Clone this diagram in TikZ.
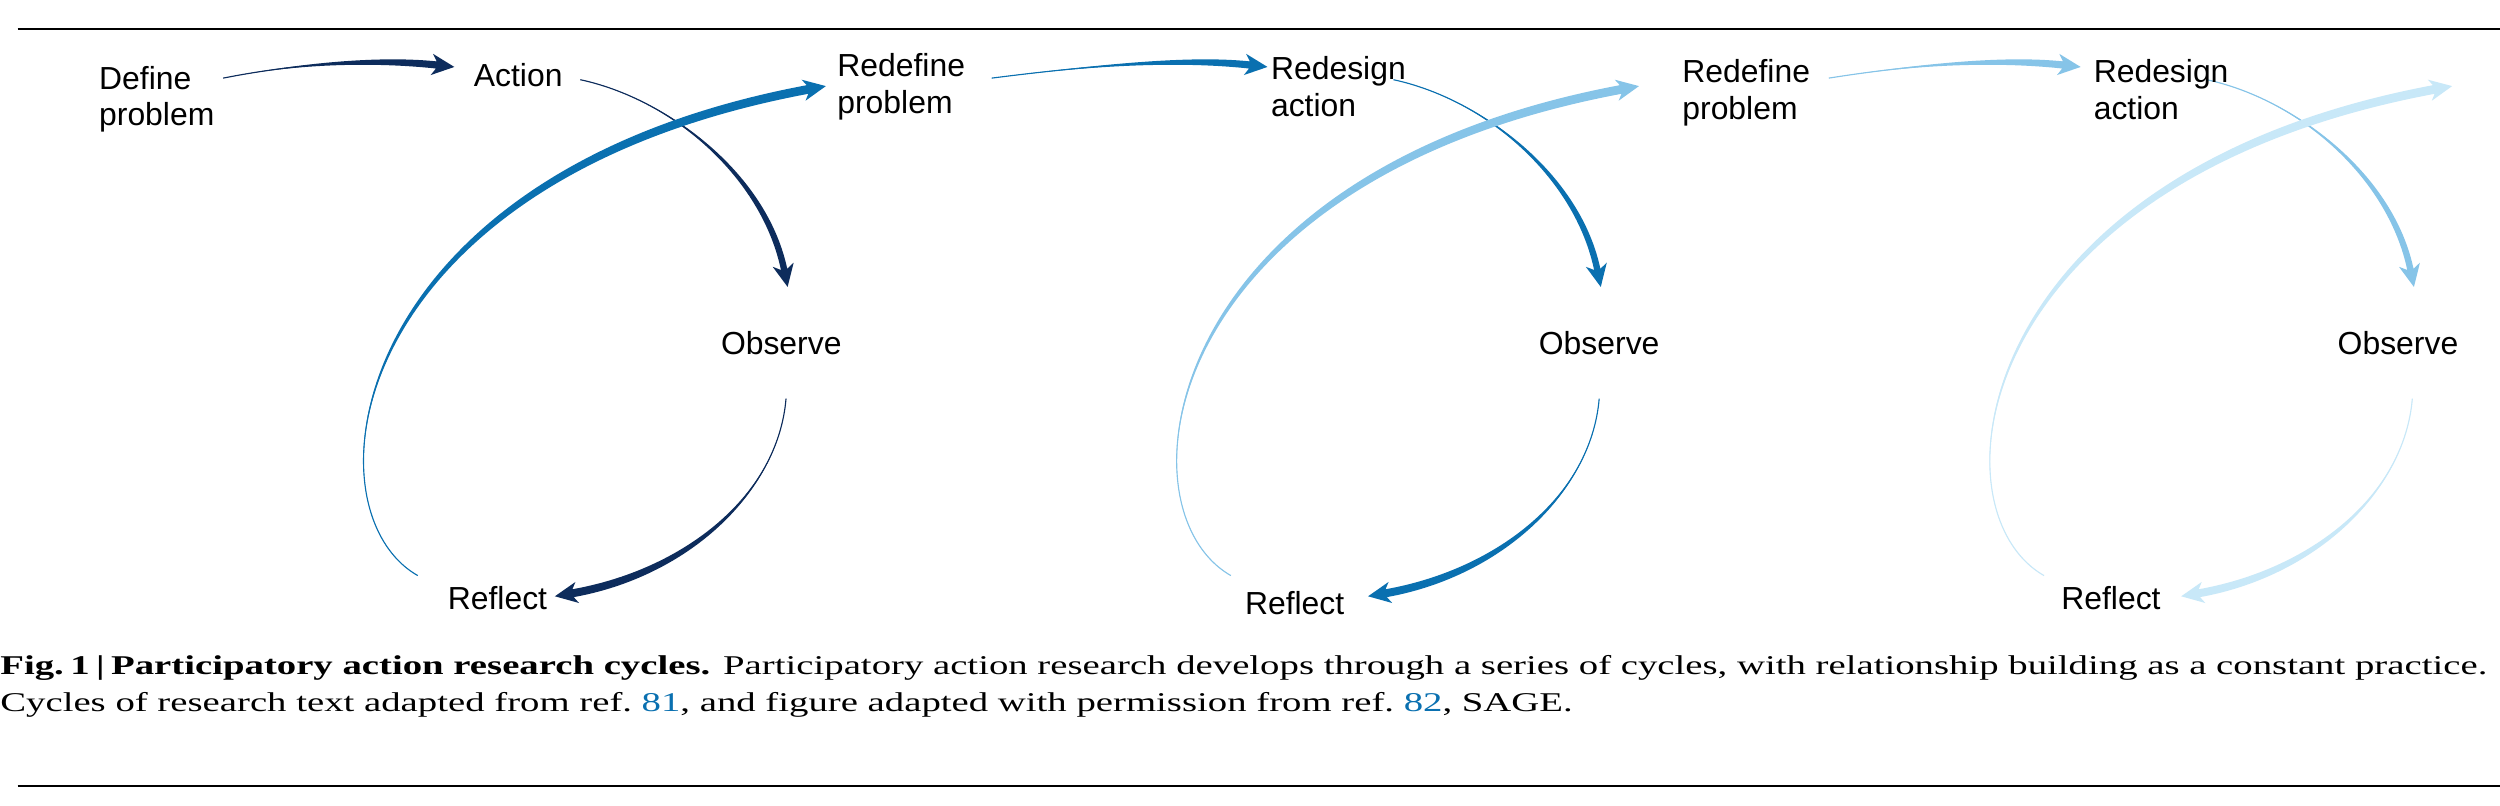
\documentclass[tikz,border=0pt]{standalone}
\usepackage{fontspec}
\setmainfont{Liberation Serif}
\newfontfamily\lab{Liberation Sans}
\usetikzlibrary{calc,arrows.meta}
\definecolor{cA}{HTML}{0D2C5C}
\definecolor{cB}{HTML}{0A70B0}
\definecolor{cC}{HTML}{86C4E8}
\definecolor{cD}{HTML}{C8E8F8}
\definecolor{link}{HTML}{0A70B0}
\newcommand\tarr[6]{%
 \coordinate (tE) at ($(#4)!10pt!(#3)$);
 \fill[#6] (#1) .. controls (#2) and ($(#3)!{#5/2}!-90:(tE)$) .. ($(tE)!{#5/2}!90:(#3)$) -- ($(tE)!{#5/2}!-90:(#3)$) .. controls ($(#3)!{#5/2}!90:(tE)$) and (#2) .. (#1) -- cycle;
 \draw[#6, line width=0.7pt] (#1) .. controls (#2) and (#3) .. (tE);
 \draw[#6, line width=#5, -{Stealth[length=14pt,width=13pt,inset=4pt]}] ($(tE)!2pt!(#3)$) -- (#4);
}
\newcommand\cyc[5]{% xshift, colour, loop colour, last-arrow colour, first start x
 \begin{scope}[xshift=#1]
  \tarr{#5,49}{190,39}{240,37}{285,42}{4.5pt}{#2}
  \tarr{364,50}{420,62}{480,110}{494,180}{4pt}{#2}
  \tarr{493,250}{488,310}{430,360}{348,374}{5pt}{#4}
  \tarr{262,361}{190,320}{215,110}{518,54}{5.5pt}{#3}
 \end{scope}}
\tikzset{lbl/.style={font=\lab\fontsize{20}{23}\selectfont, inner sep=0pt, align=left},
 captxt/.style={font=\fontsize{17}{23}\selectfont, inner sep=0pt, anchor=base west}}
\begin{document}
\begin{tikzpicture}[x=1pt,y=-1pt]
\useasboundingbox (0,0) rectangle (1568,505);
\fill[white] (0,0) rectangle (1568,505);
\draw[line width=1.3pt] (11,18) -- (1568,18);
\draw[line width=1.3pt] (11,493) -- (1568,493);
\begin{scope}
\clip (0,0) rectangle (1568,505);
\cyc{0pt}{cA}{cB}{cA}{140}
\cyc{510pt}{cB}{cC}{cB}{112}
\cyc{1020pt}{cC}{cD}{cD}{127}
\end{scope}
\node[lbl, anchor=base west] (def) at (62,79) {Define\\problem};
\node[lbl] (act) at (325,47) {Action};
\node[lbl, anchor=base west] (rd1) at (525,71) {Redefine\\problem};
\node[lbl] (ob1) at (490,215) {Observe};
\node[lbl] (rf1) at (312,375) {Reflect};
\node[lbl, anchor=base west] (rs1) at (797,73) {Redesign\\action};
\node[lbl] (ob2) at (1003,215) {Observe};
\node[lbl] (rf2) at (812,378) {Reflect};
\node[lbl, anchor=base west] (rd2) at (1055,75) {Redefine\\problem};
\node[lbl, anchor=base west] (rs2) at (1313,75) {Redesign\\action};
\node[lbl] (ob3) at (1504,215) {Observe};
\node[lbl] (rf3) at (1324,375) {Reflect};
\node[captxt] (c1) at (0,423) {\scalebox{1.43}[1]{\textbf{Fig.\,1\,|\,Participatory action research cycles.} Participatory action research develops through a series of cycles, with relationship building as a constant practice.}};
\node[captxt] (c2) at (0,446) {\scalebox{1.43}[1]{Cycles of research text adapted from ref.~\textcolor{link}{81}, and figure adapted with permission from ref.~\textcolor{link}{82}, SAGE.}};
\end{tikzpicture}
\end{document}
